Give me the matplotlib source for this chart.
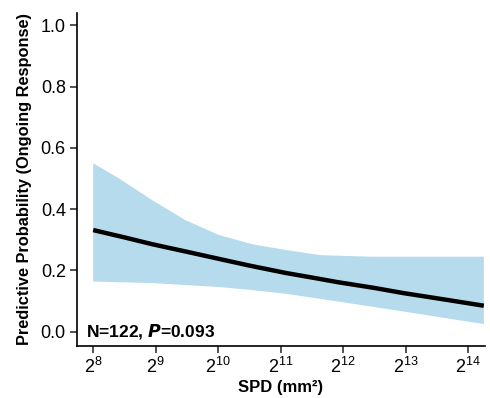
import numpy as np
import matplotlib
matplotlib.use("Agg")
import matplotlib.pyplot as plt

plt.rcParams['font.family'] = ['Liberation Sans', 'DejaVu Sans']
plt.rcParams['mathtext.fontset'] = 'custom'
plt.rcParams['mathtext.rm'] = 'Liberation Sans'
plt.rcParams['mathtext.it'] = 'Liberation Sans:italic'
plt.rcParams['mathtext.bf'] = 'Liberation Sans:bold'

# fitted curve, x as log2(SPD)
fit_x = [8.0, 8.5, 8.94, 9.5, 10.01, 10.5, 11.08, 11.5, 11.91, 12.5, 12.97, 13.6, 14.25]
fit_p = [0.332, 0.308, 0.286, 0.261, 0.238, 0.216, 0.192, 0.177, 0.162, 0.143, 0.126, 0.106, 0.085]

# confidence band (upper / lower edges read separately)
hi_x = [8.0, 8.41, 8.94, 9.47, 10.01, 10.54, 11.08, 11.64, 12.44, 14.25]
hi_p = [0.550, 0.501, 0.430, 0.365, 0.316, 0.286, 0.267, 0.250, 0.245, 0.245]
lo_x = [8.0, 8.94, 10.01, 10.5, 11.08, 11.91, 12.97, 14.25]
lo_p = [0.164, 0.159, 0.146, 0.137, 0.124, 0.099, 0.066, 0.025]

xticks = [8, 9, 10, 11, 12, 13, 14]
yticks = [0.0, 0.2, 0.4, 0.6, 0.8, 1.0]

fig = plt.figure(figsize=(4.9, 3.98), dpi=100)
ax = fig.add_axes([0.157, 0.131, 0.833, 0.836])

# band polygon: upper edge left->right, lower edge right->left
poly_x = hi_x + lo_x[::-1]
poly_y = hi_p + lo_p[::-1]
ax.fill(poly_x, poly_y, color='#b6dbed', lw=0)
ax.plot(fit_x, fit_p, color='black', lw=3.2, solid_capstyle='butt')

ax.set_xlim(7.74, 14.27)
ax.set_ylim(-0.046, 1.04)
ax.set_xticks(xticks)
ax.set_xticklabels(['$2^{%d}$' % t for t in xticks])
ax.set_yticks(yticks)
ax.set_yticklabels(['%.1f' % t for t in yticks])
ax.tick_params(labelsize=13, width=1.1, length=5, color='#222222', pad=3)

for s in ['top', 'right']:
    ax.spines[s].set_visible(False)
for s in ['left', 'bottom']:
    ax.spines[s].set_linewidth(1.2)

ax.set_xlabel('SPD (mm²)', fontsize=12, fontweight='bold', labelpad=2)
ax.set_ylabel('Predictive Probability (Ongoing Response)', fontsize=11.8, fontweight='bold', labelpad=6)

ax.text(0.022, 0.0, r'N=122, $\boldsymbol{P}$=0.093', transform=ax.get_yaxis_transform(),
        fontsize=12.5, fontweight='bold', va='center', ha='left')

fig.savefig('out.png', dpi=100)
